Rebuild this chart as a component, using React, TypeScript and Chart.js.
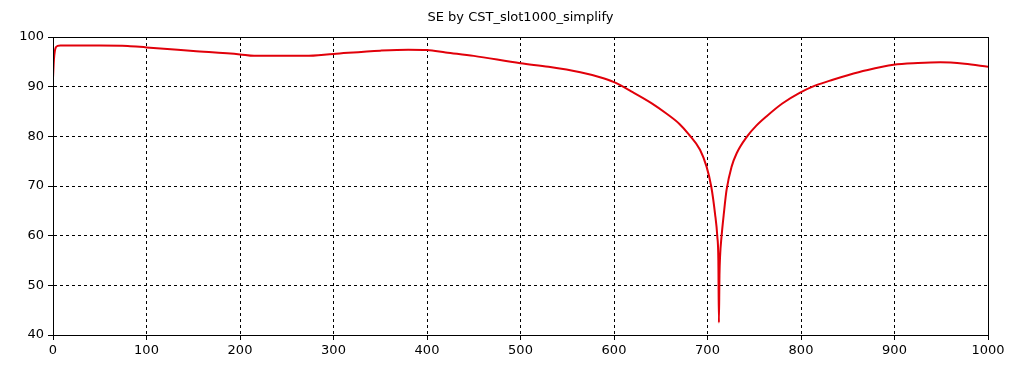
import React, { useEffect, useRef } from "react";
import { Chart, registerables } from "chart.js";

Chart.register(...registerables);

const chartTitle = "SE by CST_slot1000_simplify";

const xValues = [
  0, 1, 2, 3, 5, 8, 20, 50, 80, 100, 150, 200, 215, 240, 270, 300, 350, 380, 400, 420,
  450, 500, 530, 564, 585, 600, 620, 640, 656, 670, 680, 692, 699, 704, 708, 710.5,
  711.6, 712.2, 712.8, 713.5, 715, 717.5, 720.4, 725.8, 731.2, 742, 752, 763, 780, 799,
  815, 834, 850, 870, 899, 925, 949, 975, 1000,
];

const seValues = [
  91.7, 95.5, 97.2, 97.9, 98.2, 98.3, 98.3, 98.3, 98.2, 97.9, 97.2, 96.5, 96.2, 96.2,
  96.2, 96.6, 97.25, 97.45, 97.4, 96.9, 96.2, 94.7, 94.0, 92.9, 91.9, 90.9, 88.9, 86.7,
  84.6, 82.5, 80.4, 77.3, 73.9, 69.9, 64.5, 59.8, 55.1, 42.5, 52.0, 56.0, 59.8, 64.5,
  69.2, 73.9, 76.6, 79.9, 82.1, 84.0, 86.6, 88.8, 90.2, 91.4, 92.3, 93.3, 94.4, 94.75,
  94.9, 94.6, 94.0,
];

const xTicks = [0, 100, 200, 300, 400, 500, 600, 700, 800, 900, 1000];
const yTicks = [40, 50, 60, 70, 80, 90, 100];

const frameBox = {
  id: "frameBox",
  afterDraw(chart: any) {
    const { ctx, chartArea } = chart;
    ctx.save();
    ctx.strokeStyle = "#000";
    ctx.lineWidth = 1;
    ctx.setLineDash([]);
    ctx.strokeRect(
      Math.round(chartArea.left) + 0.5,
      Math.round(chartArea.top) + 0.5,
      Math.round(chartArea.right - chartArea.left),
      Math.round(chartArea.bottom - chartArea.top)
    );
    ctx.restore();
  },
};

export default function App() {
  const ref = useRef<HTMLCanvasElement | null>(null);

  useEffect(() => {
    if (!ref.current) return;
    const points = xValues.map((x, i) => ({ x, y: seValues[i] }));
    const font = { family: "DejaVu Sans", size: 13 };
    const chart = new Chart(ref.current, {
      type: "line",
      data: {
        datasets: [
          {
            label: "SE",
            data: points,
            borderColor: "rgb(225,0,10)",
            borderWidth: 2,
            pointRadius: 0,
            tension: 0.3,
            cubicInterpolationMode: "monotone",
            fill: false,
          },
        ],
      },
      options: {
        responsive: false,
        animation: false,
        layout: { padding: { left: 8, right: 0, top: 0, bottom: 0 } },
        plugins: {
          legend: { display: false },
          tooltip: { enabled: false },
          title: {
            display: true,
            text: chartTitle,
            color: "#000",
            font: { family: "DejaVu Sans", size: 13, weight: "normal" },
            padding: { top: 10, bottom: 11.4 },
          },
        },
        scales: {
          x: {
            type: "linear",
            min: 0,
            max: 1000,
            afterBuildTicks: (scale: any) => {
              scale.ticks = xTicks.map((v) => ({ value: v }));
            },
            afterFit: (scale: any) => {
              scale.height = 35;
            },
            ticks: { color: "#000", font, padding: 3, maxRotation: 0, callback: (v: any) => String(v) },
            grid: { color: "#000", lineWidth: 1, tickLength: 5, tickBorderDash: [] },
            border: { color: "#000", dash: [3, 3] },
          },
          y: {
            type: "linear",
            position: "left",
            min: 40,
            max: 100,
            afterBuildTicks: (scale: any) => {
              scale.ticks = yTicks.map((v) => ({ value: v }));
            },
            afterFit: (scale: any) => {
              scale.width = 45;
            },
            ticks: { color: "#000", font, padding: 4, callback: (v: any) => String(v) },
            grid: { color: "#000", lineWidth: 1, tickLength: 5, tickBorderDash: [] },
            border: { color: "#000", dash: [3, 3] },
          },
          yRight: {
            type: "linear",
            position: "right",
            min: 40,
            max: 100,
            afterFit: (scale: any) => {
              scale.width = 45;
            },
            ticks: { display: false },
            grid: { display: false, drawTicks: false },
            border: { display: false },
          },
        },
      },
      plugins: [frameBox],
    });
    return () => chart.destroy();
  }, []);

  return (
    <div style={{ position: "absolute", left: 0, top: 0, width: 1033, height: 370, background: "#fff" }}>
      <canvas ref={ref} width={1033} height={370} />
    </div>
  );
}
